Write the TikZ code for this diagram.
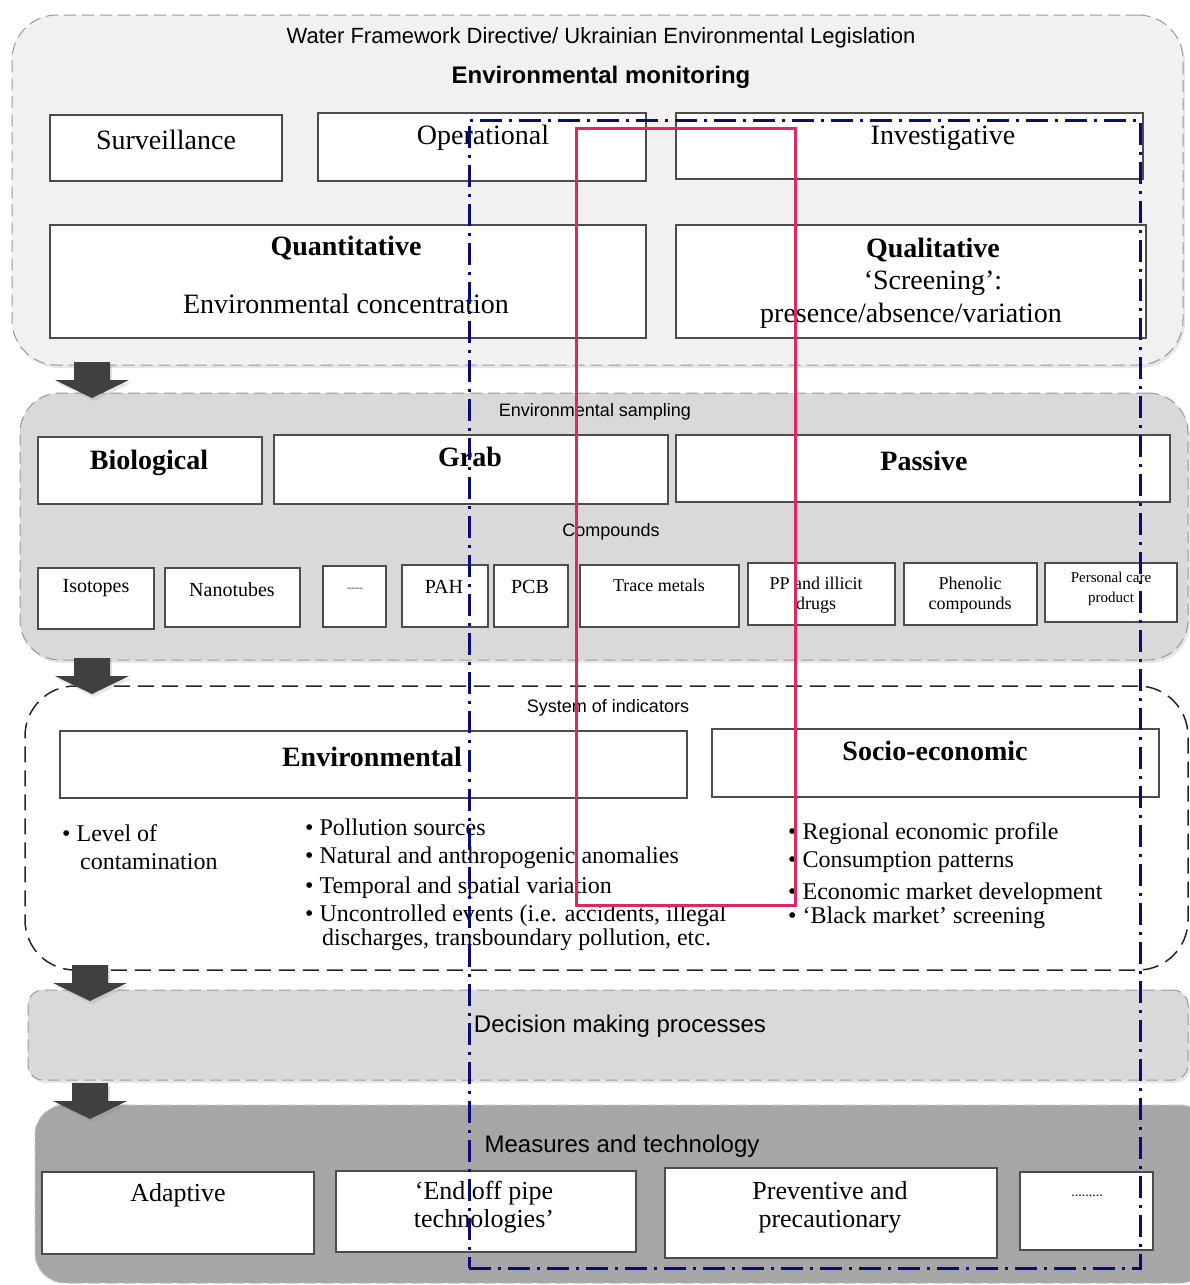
\documentclass[tikz,border=0pt]{standalone}
\usepackage{fontspec}
\setmainfont{Liberation Serif}
\setsansfont{Liberation Sans}
\usetikzlibrary{shadows}
\definecolor{secA}{RGB}{241,241,241}
\definecolor{secB}{RGB}{217,217,217}
\definecolor{secC}{RGB}{166,166,166}
\definecolor{arrowgray}{RGB}{64,64,64}
\definecolor{navyline}{RGB}{10,10,120}
\definecolor{redline}{RGB}{222,40,95}
\newcommand\mybox[6][]{\node[#1, minimum width={#5-#3}, minimum height={#6-#4}] (#2) at ({(#3+#5)/2},{(#4+#6)/2}) {};}
\tikzset{
 boxst/.style={draw=black!70, line width=1.2pt, fill=white, inner sep=0pt, outer sep=0pt},
 secst/.style={inner sep=0pt, outer sep=0pt},
 graydash/.style={draw=black!40, line width=1pt, dash pattern=on 12pt off 6pt},
 lbl/.style={font=\fontsize{28}{32}\selectfont, inner sep=0pt, align=center},
 blbl/.style={font=\bfseries\fontsize{28}{32}\selectfont, inner sep=0pt},
 clbl/.style={font=\fontsize{20}{21}\selectfont, inner sep=0pt, align=center},
 slbl/.style={font=\sffamily\fontsize{18}{20}\selectfont, inner sep=0pt},
 itemst/.style={font=\fontsize{24}{28}\selectfont, inner sep=0pt, anchor=base west},
 mlbl/.style={font=\fontsize{26}{28}\selectfont, inner sep=0pt, align=center},
 shade/.style={drop shadow={opacity=0.2, shadow xshift=2pt, shadow yshift=-3pt}},
 dnarrow/.pic={\fill[arrowgray, shade] (-18,0) -- (18,0) -- (18,18) -- (37,18) -- (0,36) -- (-37,18) -- (-18,18) -- cycle;}
}
\begin{document}
\begin{tikzpicture}[x=1pt, y=-1pt]
\useasboundingbox (0,0) rectangle (1190,1285);
% sections
\mybox[secst, fill=secA, graydash, rounded corners=45pt, shade]{secMon}{12}{15}{1183}{365}
\mybox[secst, fill=secB, graydash, rounded corners=40pt, shade]{secSamp}{20}{393}{1188}{660}
\mybox[secst, fill=white, draw=black!85, line width=1.5pt, dash pattern=on 16pt off 8pt, rounded corners=50pt]{secInd}{25}{686}{1188}{970}
\mybox[secst, fill=secB, graydash, rounded corners=15pt, shade]{secDec}{28}{990}{1188}{1080}
\mybox[secst, fill=secC, draw=black!25, line width=1pt, dash pattern=on 12pt off 6pt, rounded corners=30pt]{secMeas}{35}{1105}{1210}{1283}
% arrows between sections
\pic at (92,362) {dnarrow};
\pic at (92,658) {dnarrow};
\pic at (90,965) {dnarrow};
\pic at (90,1083) {dnarrow};
% monitoring
\node[font=\sffamily\fontsize{22}{24}\selectfont, inner sep=0pt] (wfd) at (601,38) {Water Framework Directive/ Ukrainian Environmental Legislation};
\node[font=\sffamily\bfseries\fontsize{24}{26}\selectfont, inner sep=0pt] (envmon) at (601,77) {Environmental monitoring};
\mybox[boxst]{surv}{50}{115}{282}{181}
\mybox[boxst]{oper}{318}{113}{646}{181}
\mybox[boxst]{inv}{676}{113}{1143}{179}
\mybox[boxst]{quant}{50}{225}{646}{338}
\mybox[boxst]{qual}{676}{225}{1146}{338}
\node[lbl] (survT) at (166,140) {Surveillance};
\node[lbl] (operT) at (483,138) {Operational};
\node[lbl] (invT) at (943,138) {Investigative};
\node[blbl] (quantT) at (346,248) {Quantitative};
\node[lbl] (quantS) at (346,304) {Environmental concentration};
\node[blbl] (qualT) at (933,250) {Qualitative};
\node[lbl] (qualS) at (933,283) {‘Screening’:};
\node[lbl] (qualV) at (911,316) {presence/absence/variation};
% sampling
\node[slbl] (sampT) at (595,412) {Environmental sampling};
\mybox[boxst]{bio}{38}{437}{262}{504}
\mybox[boxst]{grab}{274}{435}{668}{504}
\mybox[boxst]{pass}{676}{435}{1170}{502}
\node[blbl] (bioT) at (149,463) {Biological};
\node[blbl] (grabT) at (470,457) {Grab};
\node[blbl] (passT) at (924,461) {Passive};
\node[slbl] (compT) at (611,532) {Compounds};
\mybox[boxst]{iso}{38}{568}{154}{629}
\mybox[boxst]{nano}{165}{568}{300}{627}
\mybox[boxst]{dots}{323}{566}{386}{627}
\mybox[boxst]{pah}{402}{565}{488}{627}
\mybox[boxst]{pcb}{494}{565}{568}{627}
\mybox[boxst]{trace}{580}{565}{739}{627}
\mybox[boxst]{pp}{748}{563}{895}{625}
\mybox[boxst]{phen}{904}{563}{1037}{625}
\mybox[boxst]{pers}{1045}{563}{1177}{622}
\node[clbl] (isoT) at (96,588) {Isotopes};
\node[clbl] (nanoT) at (232,590) {Nanotubes};
\node[clbl, font=\fontsize{12}{14}\selectfont, text=black!70] (dotsT) at (355,590) {-{}-{}-{}-};
\node[clbl] (pahT) at (444,587) {PAH};
\node[clbl] (pcbT) at (530,587) {PCB};
\node[clbl, font=\fontsize{18}{20}\selectfont] (traceT) at (659,585) {Trace metals};
\node[clbl, font=\fontsize{18}{20}\selectfont] (ppT) at (816,595) {PP and illicit\\drugs};
\node[clbl, font=\fontsize{18}{20}\selectfont] (phenT) at (970,595) {Phenolic\\compounds};
\node[clbl, font=\fontsize{15}{20}\selectfont] (persT) at (1111,589) {Personal care\\product};
% indicators
\node[slbl] (indT) at (608,708) {System of indicators};
\mybox[boxst]{envi}{60}{731}{687}{798}
\mybox[boxst]{socio}{712}{729}{1159}{797}
\node[blbl] (enviT) at (372,757) {Environmental};
\node[blbl] (socioT) at (935,751) {Socio-economic};
\node[itemst] (l1a) at (62,841) {\textbullet\ Level of};
\node[itemst] (l1b) at (80,869) {contamination};
\node[itemst] (l2a) at (305,835) {\textbullet\ Pollution sources};
\node[itemst] (l2b) at (305,863) {\textbullet\ Natural and anthropogenic anomalies};
\node[itemst] (l2c) at (305,893) {\textbullet\ Temporal and spatial variation};
\node[itemst] (l2d) at (305,921) {\textbullet\ Uncontrolled events (i.e. accidents, illegal};
\node[itemst] (l2e) at (322,945) {discharges, transboundary pollution, etc.};
\node[itemst] (l3a) at (788,839) {\textbullet\ Regional economic profile};
\node[itemst] (l3b) at (788,867) {\textbullet\ Consumption patterns};
\node[itemst] (l3c) at (788,899) {\textbullet\ Economic market development};
\node[itemst] (l3d) at (788,923) {\textbullet\ ‘Black market’ screening};
% decision
\node[font=\sffamily\fontsize{24}{26}\selectfont, inner sep=0pt] (decT) at (620,1026) {Decision making processes};
% measures
\node[font=\sffamily\fontsize{24}{26}\selectfont, inner sep=0pt] (measT) at (622,1146) {Measures and technology};
\mybox[boxst]{adapt}{42}{1172}{314}{1254}
\mybox[boxst]{endp}{336}{1171}{636}{1252}
\mybox[boxst]{prev}{665}{1168}{997}{1258}
\mybox[boxst]{etc}{1020}{1172}{1153}{1250}
\node[mlbl] (adaptT) at (178,1195) {Adaptive};
\node[mlbl] (endpT) at (484,1207) {‘End off pipe\\technologies’};
\node[mlbl] (prevT) at (830,1207) {Preventive and\\precautionary};
\node[clbl, font=\fontsize{14}{16}\selectfont] (etcT) at (1087,1196) {.........};
% overlay frames
\mybox[secst, draw=navyline, line width=3pt, dash pattern=on 22pt off 7pt on 3pt off 7pt]{blueframe}{469}{120}{1140}{1268}
\mybox[secst, draw=redline, line width=3pt]{redframe}{576}{128}{795}{905}
\end{tikzpicture}
\end{document}
